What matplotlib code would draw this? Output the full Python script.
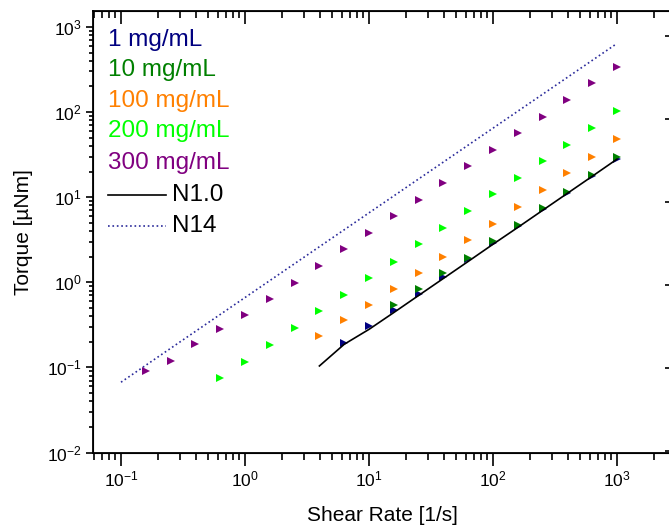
import numpy as np
import matplotlib.pyplot as plt

plt.rcParams['font.family'] = ['Liberation Sans', 'DejaVu Sans']
plt.rcParams['mathtext.fontset'] = 'custom'
plt.rcParams['mathtext.rm'] = 'Liberation Sans'
plt.rcParams['axes.unicode_minus'] = False

# shear rates [1/s], 5 points per decade
rate_300 = [0.158, 0.251, 0.398, 0.631, 1.0, 1.58, 2.51, 3.98, 6.31, 10, 15.8, 25.1,
            39.8, 63.1, 100, 158, 251, 398, 631, 1000]
torque_300 = [0.090, 0.12, 0.19, 0.28, 0.41, 0.64, 0.99, 1.54, 2.43, 3.8, 5.98, 9.2,
              14.6, 23, 36, 56, 88, 138, 218, 341]

rate_200 = [0.631, 1.0, 1.58, 2.51, 3.98, 6.31, 10, 15.8, 25.1, 39.8, 63.1, 100, 158,
            251, 398, 631, 1000]
torque_200 = [0.0757, 0.115, 0.185, 0.29, 0.456, 0.716, 1.12, 1.75, 2.78, 4.32, 6.79,
              10.8, 16.7, 26.3, 41.2, 64.8, 103]

rate_100 = [3.98, 6.31, 10, 15.8, 25.1, 39.8, 63.1, 100, 158, 251, 398, 631, 1000]
torque_100 = [0.232, 0.364, 0.547, 0.843, 1.30, 2.0, 3.12, 4.9, 7.69, 12.1, 19.0, 29.8, 47.7]

rate_10 = [15.8, 25.1, 39.8, 63.1, 100, 158, 251, 398, 631, 1000]
torque_10 = [0.547, 0.843, 1.29, 1.95, 3.04, 4.77, 7.5, 11.5, 18.2, 29.8]

rate_1 = [6.31, 10, 15.8, 25.1, 39.8, 63.1, 100, 158, 251, 398, 631, 1000]
torque_1 = [0.193, 0.303, 0.469, 0.736, 1.15, 1.88, 2.9, 4.6, 7.2, 11.3, 17.8, 28]

rate_n1 = [3.98, 6.31, 10, 15.8, 25.1, 39.8, 63.1, 100, 158, 251, 398, 631, 1000]
torque_n1 = [0.104, 0.187, 0.28, 0.44, 0.70, 1.11, 1.76, 2.8, 4.4, 7.0, 11.1, 17.6, 28]

rate_n14 = [0.1, 1000]
torque_n14 = [0.067, 640]

labels = ['1 mg/mL', '10 mg/mL', '100 mg/mL', '200 mg/mL', '300 mg/mL']
colors = ['#000080', '#008000', '#ff8000', '#00ff00', '#800080']

fig = plt.figure(figsize=(6.69, 5.31), dpi=100)
ax = fig.add_axes([0.1395, 0.1478, 0.8635, 0.8315])

series = [(rate_1, torque_1), (rate_10, torque_10), (rate_100, torque_100),
          (rate_200, torque_200), (rate_300, torque_300)]
for (x, y), c in zip(series, colors):
    ax.plot(x, y, '>', color=c, ms=6, mew=0, zorder=3)

ax.plot(rate_n1, torque_n1, '-', color='black', lw=1.2, zorder=4)
ax.plot(rate_n14, torque_n14, ':', color='#2a2a9a', lw=1.2, zorder=4)

ax.set_xscale('log')
ax.set_yscale('log')
ax.set_xlim(0.0598, 2725)
ax.set_ylim(0.01, 1540)

ax.set_xlabel('Shear Rate [1/s]', fontsize=15, labelpad=12)
ax.set_ylabel('Torque [\u00b5Nm]', fontsize=15, labelpad=10)

for s in ax.spines.values():
    s.set_linewidth(1.3)
ax.tick_params(which='both', labelsize=12.5, width=1.2)
ax.tick_params(axis='x', which='major', direction='out', length=9, top=True)
ax.tick_params(axis='x', which='minor', direction='out', length=5, top=True)
ax.tick_params(axis='y', which='major', direction='out', length=5)
ax.tick_params(axis='y', which='minor', direction='out', length=3)
# top ticks point inwards
for t in ax.xaxis.get_major_ticks() + ax.xaxis.get_minor_ticks():
    t.tick2line.set_marker(3)

# secondary right axis (only its ticks peek into the frame)
ax2 = ax.twinx()
ax2.set_yscale('log')
ax2.set_ylim(10**-2.018, 10**3.301)
ax2.tick_params(axis='y', which='major', direction='in', length=4, width=1.2, labelright=False)
ax2.tick_params(axis='y', which='minor', length=0)

# legend written as text
y0 = [0.934, 0.866, 0.796, 0.728, 0.656]
for lab, c, yy in zip(labels, colors, y0):
    ax.text(0.025, yy, lab, color=c, fontsize=17.5, va='center', transform=ax.transAxes)
ax.plot([0.025, 0.125], [0.583, 0.583], '-', color='black', lw=1.2, transform=ax.transAxes)
ax.text(0.137, 0.583, 'N1.0', fontsize=17.5, va='center', transform=ax.transAxes)
ax.plot([0.025, 0.125], [0.513, 0.513], ':', color='#2a2a9a', lw=1.2, transform=ax.transAxes)
ax.text(0.137, 0.513, 'N14', fontsize=17.5, va='center', transform=ax.transAxes)

plt.savefig('out.png', dpi=100)
